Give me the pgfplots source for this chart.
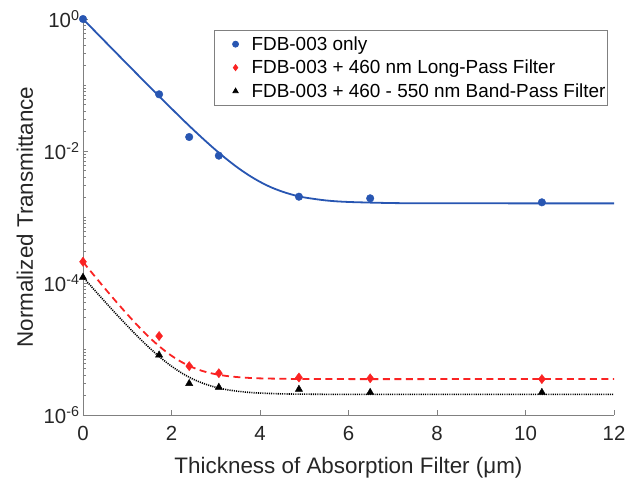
\documentclass[border=0pt]{standalone}
\usepackage{fontspec}
\setmainfont{Liberation Sans}
\usepackage{pgfplots}
\pgfplotsset{compat=1.18}
\definecolor{mblue}{RGB}{40,86,178}
\definecolor{mred}{RGB}{250,35,35}
\definecolor{axgray}{RGB}{128,128,128}
\begin{document}
\begin{tikzpicture}
\path[use as bounding box] (-83bp,-67bp) rectangle (542bp,415bp);
\begin{axis}[
  at={(0,0)}, anchor=south west,
  scale only axis, width=531bp, height=396bp,
  xmin=0, xmax=12, ymin=1e-6, ymax=1, ymode=log,
  axis lines*=left,
  axis line style={draw=axgray, line width=0.8bp},
  every tick/.style={draw=axgray, line width=0.8bp},
  tick align=inside, major tick length=5bp, minor tick length=3bp,
  xtick={0,2,4,6,8,10,12},
  ytick={1e-6,1e-4,1e-2,1},
  yticklabels={10\textsuperscript{-6},10\textsuperscript{-4},10\textsuperscript{-2},10\textsuperscript{0}},
  minor ytick={2e-6,3e-6,4e-6,5e-6,6e-6,7e-6,8e-6,9e-6,1e-5,2e-5,3e-5,4e-5,5e-5,6e-5,7e-5,8e-5,9e-5,
               2e-4,3e-4,4e-4,5e-4,6e-4,7e-4,8e-4,9e-4,1e-3,2e-3,3e-3,4e-3,5e-3,6e-3,7e-3,8e-3,9e-3,
               2e-2,3e-2,4e-2,5e-2,6e-2,7e-2,8e-2,9e-2,1e-1,2e-1,3e-1,4e-1,5e-1,6e-1,7e-1,8e-1,9e-1},
  /pgf/number format/assume math mode=true,
  tick label style={font=\fontsize{20.5}{24}\selectfont, text=black!85},
  xticklabel style={yshift=-8bp},
  label style={font=\fontsize{22.5}{27}\selectfont, text=black!85},
  xlabel={Thickness of Absorption Filter (μm)},
  ylabel={Normalized Transmittance},
  xlabel style={at={(axis description cs:0.5,-0.1465)}, anchor=base},
  ylabel style={at={(axis description cs:-0.0942,0.5)}, anchor=base},
  clip=false,
  legend style={at={(axis description cs:0.9887,0.9722)}, anchor=north east,
    draw=axgray, line width=0.8bp, font=\fontsize{19}{23}\selectfont,
    row sep=0bp, column sep=0bp, inner xsep=2bp, inner ysep=2bp,
    nodes={inner xsep=0bp, inner ysep=0bp}},
  legend cell align=left,
  legend image code/.code={%
    \draw[#1, mark size=3bp] plot coordinates {(0bp,0bp)};
    \path[draw=none, fill=none] (-19bp,-11.75bp) rectangle (16bp,11.75bp);},
]
% fitted curves
\addplot[mblue, line width=1.8bp, forget plot, smooth] coordinates {
(0,1.0) (0.25,0.6740) (0.5,0.4545) (0.75,0.3067) (1,0.2072) (1.25,0.1401) (1.5,0.0949)
(1.75,0.0645) (2,0.0440) (2.25,0.0301) (2.5,0.0208) (2.75,0.01455) (3,0.01033) (3.25,0.00749)
(3.5,0.00557) (3.75,0.00428) (4,0.00341) (4.25,0.00282) (4.5,0.00243) (4.75,0.00216)
(5,0.00198) (5.5,0.00178) (6,0.00169) (7,0.001626) (8,0.001613) (10,0.00161) (12,0.00161)};
\addplot[mred, line width=1.8bp, dash pattern=on 7bp off 4.5bp, forget plot, smooth] coordinates {
(0,2.085e-4) (0.25,1.304e-4) (0.5,8.20e-5) (0.75,5.21e-5) (1,3.36e-5) (1.25,2.21e-5) (1.5,1.50e-5)
(1.75,1.062e-5) (2,7.91e-6) (2.25,6.23e-6) (2.5,5.19e-6) (2.75,4.54e-6) (3,4.15e-6) (3.25,3.90e-6)
(3.5,3.75e-6) (3.75,3.65e-6) (4,3.59e-6) (4.5,3.54e-6) (5,3.51e-6) (6,3.5e-6) (8,3.5e-6) (10,3.5e-6) (12,3.5e-6)};
\addplot[black, line width=1.6bp, dash pattern=on 1.1bp off 1.1bp, forget plot, smooth] coordinates {
(0,1.2305e-4) (0.25,7.96e-5) (0.5,5.17e-5) (0.75,3.39e-5) (1,2.25e-5) (1.25,1.51e-5) (1.5,1.043e-5)
(1.75,7.42e-6) (2,5.49e-6) (2.25,4.25e-6) (2.5,3.46e-6) (2.75,2.96e-6) (3,2.63e-6) (3.25,2.42e-6)
(3.5,2.29e-6) (3.75,2.20e-6) (4,2.15e-6) (4.5,2.09e-6) (5,2.07e-6) (6,2.05e-6) (8,2.05e-6) (10,2.05e-6) (12,2.05e-6)};
% measured points
\addplot[only marks, mark=*, mark size=3.8bp, draw=mblue, fill=mblue] coordinates {
(0,1.0) (1.72,0.0723) (2.40,0.0163) (3.07,0.0085) (4.88,0.00203) (6.49,0.00192) (10.37,0.00167)};
\addlegendentry{FDB-003 only}
\addplot[only marks, mark=diamond*, mark size=4.6bp, draw=mred, fill=mred] coordinates {
(0,2.1e-4) (1.72,1.57e-5) (2.40,5.5e-6) (3.07,4.3e-6) (4.88,3.7e-6) (6.49,3.6e-6) (10.37,3.5e-6)};
\addlegendentry{FDB-003 + 460 nm Long-Pass Filter}
\addplot[only marks, mark=triangle*, mark size=4.2bp, draw=black, fill=black] coordinates {
(0,1.22e-4) (1.72,8.1e-6) (2.40,3.0e-6) (3.07,2.63e-6) (4.88,2.45e-6) (6.49,2.2e-6) (10.37,2.2e-6)};
\addlegendentry{FDB-003 + 460 - 550 nm Band-Pass Filter}
\end{axis}
\end{tikzpicture}
\end{document}
